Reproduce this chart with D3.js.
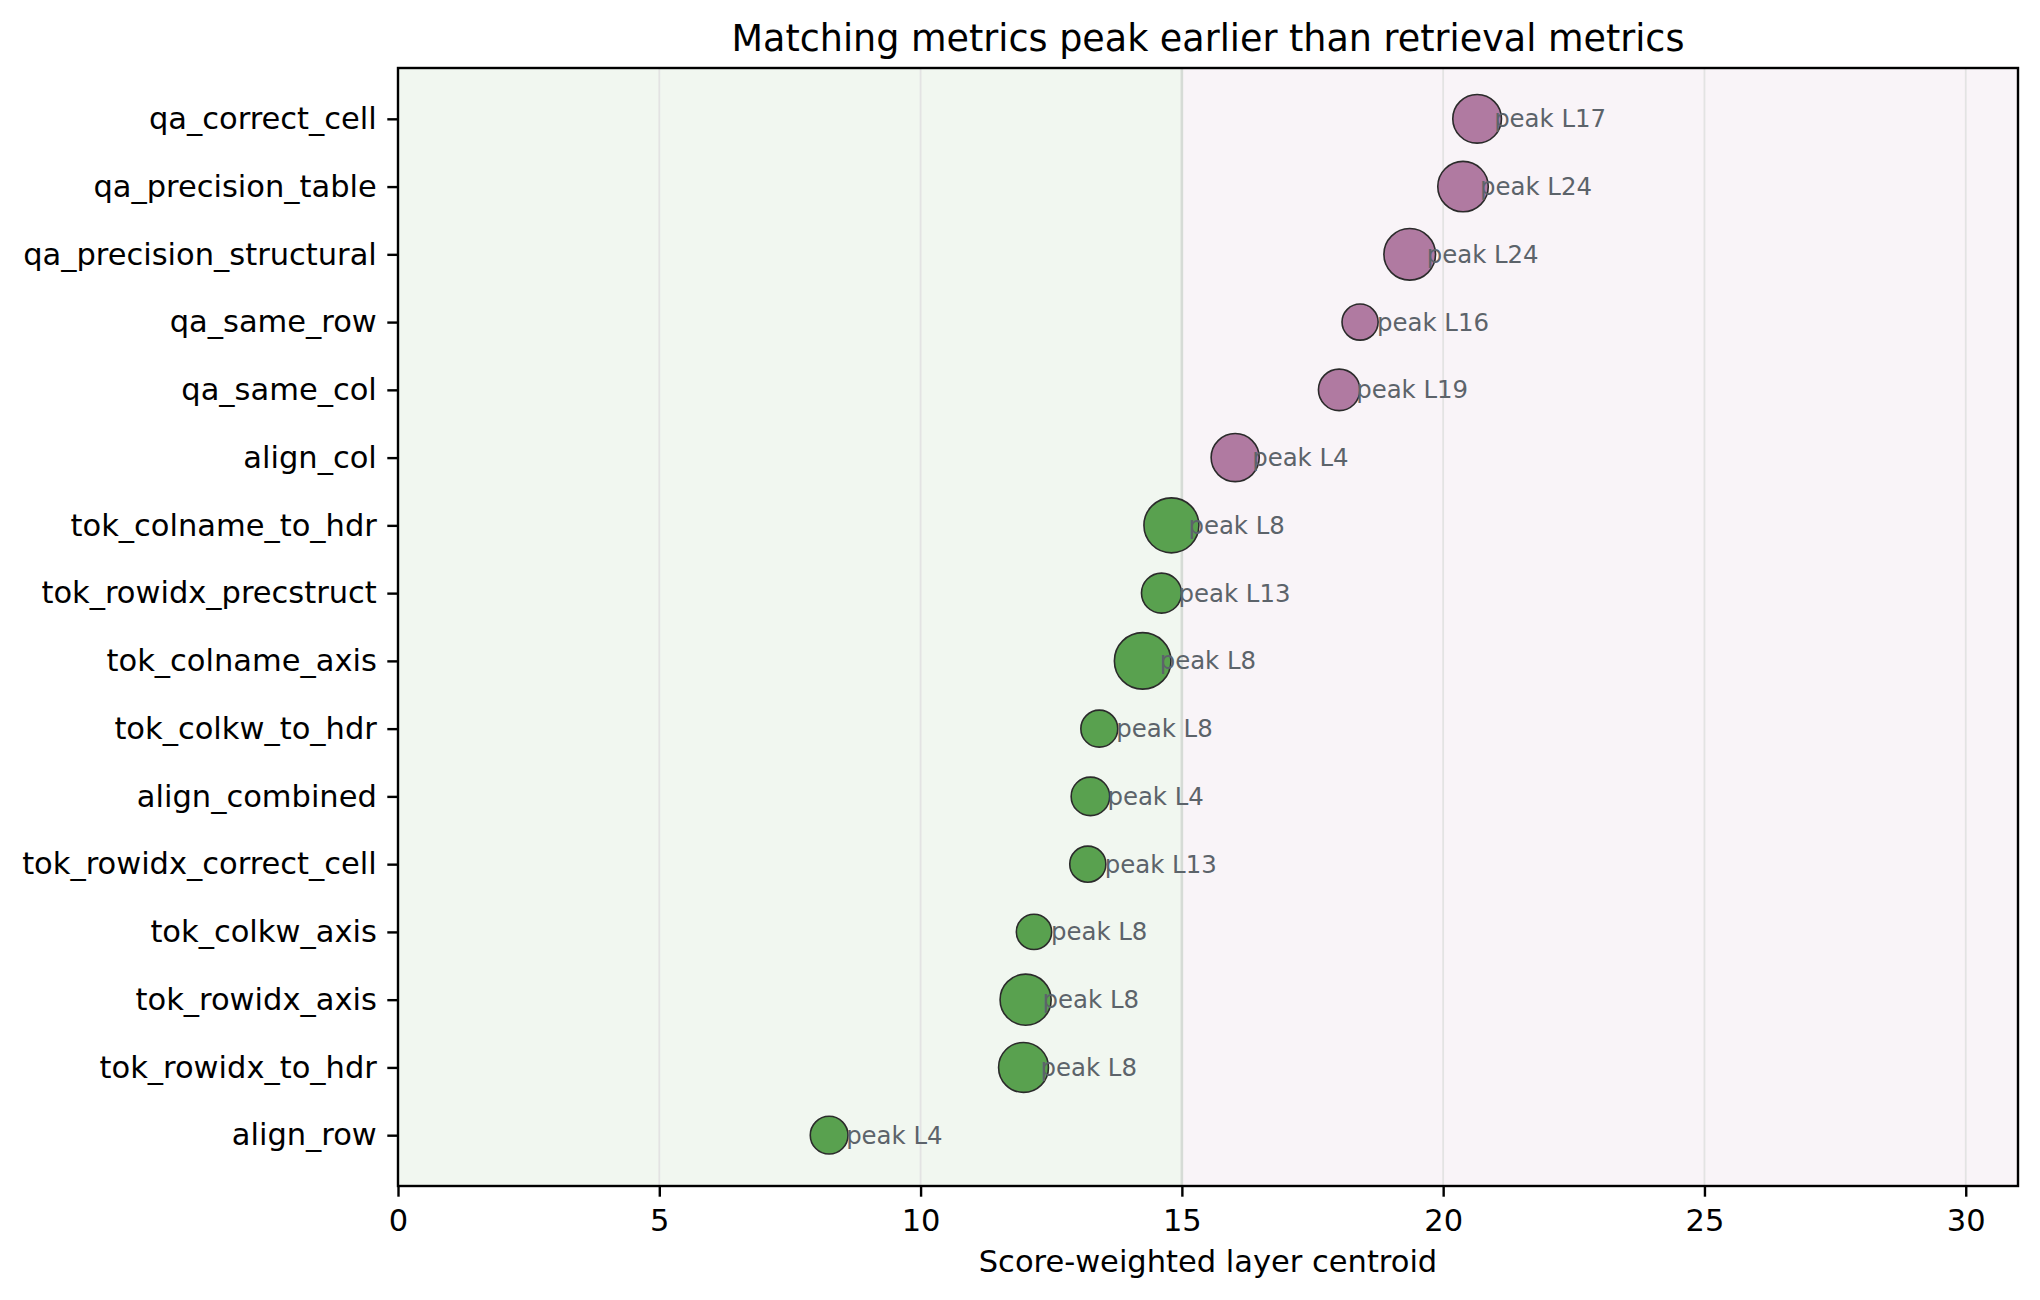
<!DOCTYPE html>
<html>
<head>
<meta charset="utf-8">
<script src="https://cdn.jsdelivr.net/npm/d3@7"></script>
<style>
  body { margin: 0; background: #fff; }
  text { font-family: "DejaVu Sans", sans-serif; }
</style>
</head>
<body>
<div id="chart"></div>
<script>
// metrics, top to bottom
var metrics = [
    "qa_correct_cell", "qa_precision_table", "qa_precision_structural", "qa_same_row",
    "qa_same_col", "align_col", "tok_colname_to_hdr", "tok_rowidx_precstruct",
    "tok_colname_axis", "tok_colkw_to_hdr", "align_combined", "tok_rowidx_correct_cell",
    "tok_colkw_axis", "tok_rowidx_axis", "tok_rowidx_to_hdr", "align_row"
];
var centroids = [20.65, 20.38, 19.36, 18.41, 18.01, 16.02, 14.80, 14.61,
                 14.25, 13.42, 13.25, 13.20, 12.17, 12.01, 11.97, 8.25];
var peakLayers = [17, 24, 24, 16, 19, 4, 8, 13, 8, 8, 4, 13, 8, 8, 8, 4];
var peakScores = [0.40, 0.43, 0.45, 0.22, 0.29, 0.39, 0.51, 0.27,
                  0.54, 0.23, 0.25, 0.22, 0.21, 0.44, 0.42, 0.24];
var groups = ["retrieval", "retrieval", "retrieval", "retrieval", "retrieval", "retrieval",
              "matching", "matching", "matching", "matching", "matching", "matching",
              "matching", "matching", "matching", "matching"];
var xTicks = [0, 5, 10, 15, 20, 25, 30];
var split = 15;

var width = 2040, height = 1300;
var margin = {top: 68, right: 22, bottom: 114, left: 398};

var svg = d3.select("#chart").append("svg")
    .attr("width", width)
    .attr("height", height);

var x = d3.scaleLinear().domain([0, 31]).range([margin.left, width - margin.right]);
var y = d3.scalePoint().domain(metrics).range([margin.top, height - margin.bottom]).padding(0.75);
var r = d3.scaleSqrt().domain([0, 1]).range([0, 38.5]);
var color = d3.scaleOrdinal().domain(["matching", "retrieval"]).range(["#59a14f", "#b07aa1"]);

var plotTop = margin.top, plotBottom = height - margin.bottom;

// shaded halves
svg.append("rect")
    .attr("x", x(0)).attr("y", plotTop)
    .attr("width", x(split) - x(0)).attr("height", plotBottom - plotTop)
    .attr("fill", "#f1f7f0");
svg.append("rect")
    .attr("x", x(split)).attr("y", plotTop)
    .attr("width", x(31) - x(split)).attr("height", plotBottom - plotTop)
    .attr("fill", "#f9f4f8");

// vertical grid
svg.append("g").selectAll("line")
    .data(xTicks.filter(function(d) { return d > 0; }))
    .enter().append("line")
    .attr("x1", function(d) { return x(d); })
    .attr("x2", function(d) { return x(d); })
    .attr("y1", plotTop).attr("y2", plotBottom)
    .attr("stroke", function(d) { return d === split ? "#d6dbd6" : "#e3e3e3"; })
    .attr("stroke-width", function(d) { return d === split ? 2.6 : 1.8; });

var rows = metrics.map(function(m, i) {
    return {metric: m, x: centroids[i], layer: peakLayers[i], score: peakScores[i], group: groups[i]};
});

svg.append("g").selectAll("circle")
    .data(rows)
    .enter().append("circle")
    .attr("cx", function(d) { return x(d.x); })
    .attr("cy", function(d) { return y(d.metric); })
    .attr("r", function(d) { return r(d.score); })
    .attr("fill", function(d) { return color(d.group); })
    .attr("stroke", "#2b2b2b")
    .attr("stroke-width", 1.6);

svg.append("g").selectAll("text")
    .data(rows)
    .enter().append("text")
    .attr("x", function(d) { return x(d.x) + 17; })
    .attr("y", function(d) { return y(d.metric); })
    .attr("dy", "0.35em")
    .attr("font-size", "24.4px")
    .attr("fill", "#5c636a")
    .text(function(d) { return "peak L" + d.layer; });

// axes
var xAxis = svg.append("g")
    .attr("transform", "translate(0," + plotBottom + ")")
    .call(d3.axisBottom(x).tickValues(xTicks).tickSize(10.7).tickPadding(13));
var yAxis = svg.append("g")
    .attr("transform", "translate(" + margin.left + ",0)")
    .call(d3.axisLeft(y).tickSize(10.7).tickPadding(10.5));

[xAxis, yAxis].forEach(function(a) {
    a.select(".domain").remove();
    a.selectAll(".tick line").attr("stroke", "#000").attr("stroke-width", 2.4);
    a.selectAll(".tick text")
        .attr("font-size", "30.5px")
        .attr("font-family", "DejaVu Sans, sans-serif")
        .attr("fill", "#000");
});
xAxis.selectAll(".tick text").attr("dy", "0.71em");

// frame
svg.append("rect")
    .attr("x", x(0)).attr("y", plotTop)
    .attr("width", x(31) - x(0)).attr("height", plotBottom - plotTop)
    .attr("fill", "none")
    .attr("stroke", "#000")
    .attr("stroke-width", 2.4);

svg.append("text")
    .attr("x", (x(0) + x(31)) / 2)
    .attr("y", 51)
    .attr("text-anchor", "middle")
    .attr("font-size", "36.5px")
    .text("Matching metrics peak earlier than retrieval metrics");

svg.append("text")
    .attr("x", (x(0) + x(31)) / 2)
    .attr("y", 1272)
    .attr("text-anchor", "middle")
    .attr("font-size", "30.5px")
    .text("Score-weighted layer centroid");
</script>
</body>
</html>
